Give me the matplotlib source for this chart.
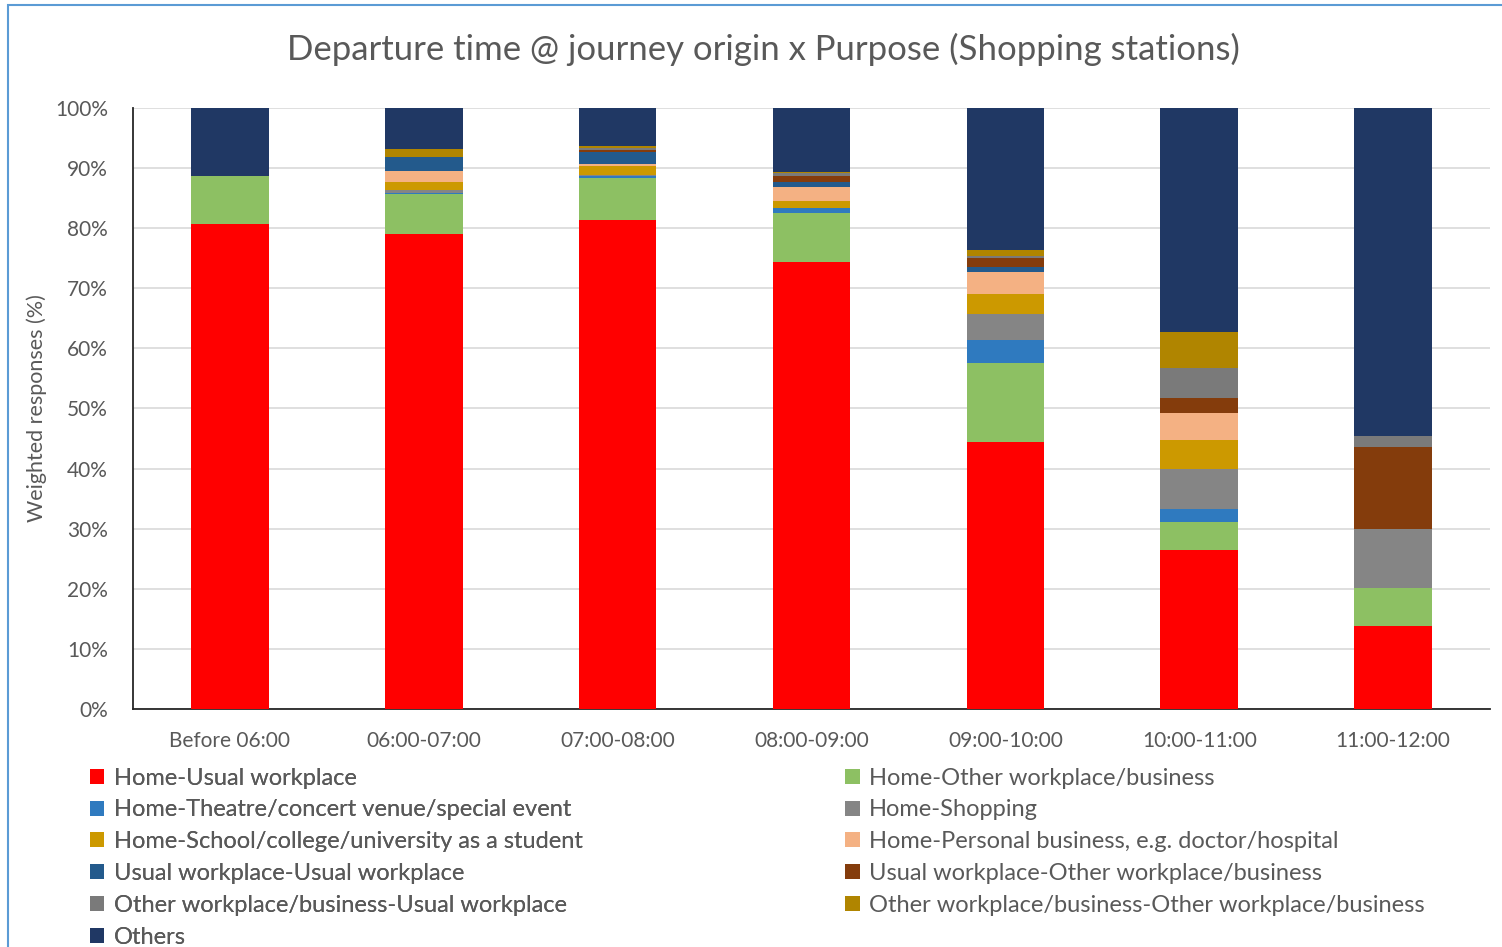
import matplotlib.pyplot as plt
import matplotlib.patches as mpatches
import numpy as np

plt.rcParams['font.family'] = ['Lato', 'DejaVu Sans']

categories = ['Before 06:00', '06:00-07:00', '07:00-08:00', '08:00-09:00',
              '09:00-10:00', '10:00-11:00', '11:00-12:00']

purposes = ['Home-Usual workplace',
            'Home-Other workplace/business',
            'Home-Theatre/concert venue/special event',
            'Home-Shopping',
            'Home-School/college/university as a student',
            'Home-Personal business, e.g. doctor/hospital',
            'Usual workplace-Usual workplace',
            'Usual workplace-Other workplace/business',
            'Other workplace/business-Usual workplace',
            'Other workplace/business-Other workplace/business',
            'Others']

home_usual    = [80.7, 79.0, 81.4, 74.4, 44.4, 26.5, 13.8]
home_other    = [8.0, 6.7, 6.9, 8.2, 13.2, 4.6, 6.3]
home_theatre  = [0.0, 0.2, 0.4, 0.8, 3.8, 2.2, 0.0]
home_shopping = [0.0, 0.4, 0.1, 0.0, 4.3, 6.7, 9.9]
home_school   = [0.0, 1.3, 1.5, 1.2, 3.3, 4.8, 0.0]
home_personal = [0.0, 1.9, 0.3, 2.3, 3.7, 4.5, 0.0]
usual_usual   = [0.0, 2.3, 2.0, 0.8, 0.9, 0.0, 0.0]
usual_other   = [0.0, 0.0, 0.4, 0.9, 1.4, 2.4, 13.6]
other_usual   = [0.0, 0.0, 0.3, 0.5, 0.4, 5.0, 1.8]
other_other   = [0.0, 1.4, 0.4, 0.3, 1.0, 6.0, 0.0]
others        = [11.3, 6.8, 6.3, 10.6, 23.6, 37.3, 54.6]

series = [home_usual, home_other, home_theatre, home_shopping, home_school,
          home_personal, usual_usual, usual_other, other_usual, other_other, others]
colors = ['#FF0000', '#8DC063', '#2F7ABF', '#858585', '#CC9900', '#F4B183',
          '#235A8C', '#843C0C', '#7A7A7A', '#B08500', '#203864']

fig = plt.figure(figsize=(15.02, 9.47), dpi=100)
ax = fig.add_axes([0.0886, 0.2513, 0.9034, 0.6347])

x = np.arange(len(categories))
bottom = np.zeros(len(categories))
handles = []
for vals, col, lab in zip(series, colors, purposes):
    vals = np.array(vals)
    b = ax.bar(x, vals, 0.40, bottom=bottom, color=col, label=lab, zorder=3)
    handles.append(b)
    bottom += vals

ax.set_xlim(-0.5, 6.5)
ax.set_ylim(0, 100)
ax.set_yticks(np.arange(0, 101, 10))
ax.set_yticklabels([f'{v}%' for v in range(0, 101, 10)])
ax.set_xticks(x)
ax.set_xticklabels(categories)
ax.tick_params(axis='both', length=0, labelsize=15, labelcolor='#595959')
ax.tick_params(axis='x', pad=16)
ax.tick_params(axis='y', pad=18)
ax.grid(axis='y', color='#D9D9D9', linewidth=1.2, zorder=0)
for s in ['top', 'right']:
    ax.spines[s].set_visible(False)
ax.spines['left'].set_color('#262626')
ax.spines['bottom'].set_color('#262626')
ax.spines['left'].set_linewidth(1.3)
ax.spines['bottom'].set_linewidth(1.3)

ax.set_ylabel('Weighted responses (%)', fontsize=15.5, color='#595959', labelpad=6)
fig.text(0.508, 0.948, 'Departure time @ journey origin x Purpose (Shopping stations)',
         ha='center', va='center', fontsize=25, color='#595959')

# legend laid out row-wise in two columns
left_idx = [0, 2, 4, 6, 8, 10]
right_idx = [1, 3, 5, 7, 9]
leg_kw = dict(frameon=False, fontsize=17, labelcolor='#595959', handlelength=0.6,
              handleheight=0.6, handletextpad=0.4, labelspacing=0.46, borderpad=0,
              loc='upper left')
leg1 = fig.legend([handles[i] for i in left_idx], [purposes[i] for i in left_idx],
                  bbox_to_anchor=(0.052, 0.202), **leg_kw)
fig.add_artist(leg1)
fig.legend([handles[i] for i in right_idx], [purposes[i] for i in right_idx],
           bbox_to_anchor=(0.555, 0.202), **leg_kw)

# chart border
fig.patches.append(mpatches.Rectangle((0.005, -0.01), 1.2, 1.005, transform=fig.transFigure,
                                      fill=False, edgecolor='#5B9BD5', linewidth=1.5))

fig.savefig('out.png', dpi=100)
